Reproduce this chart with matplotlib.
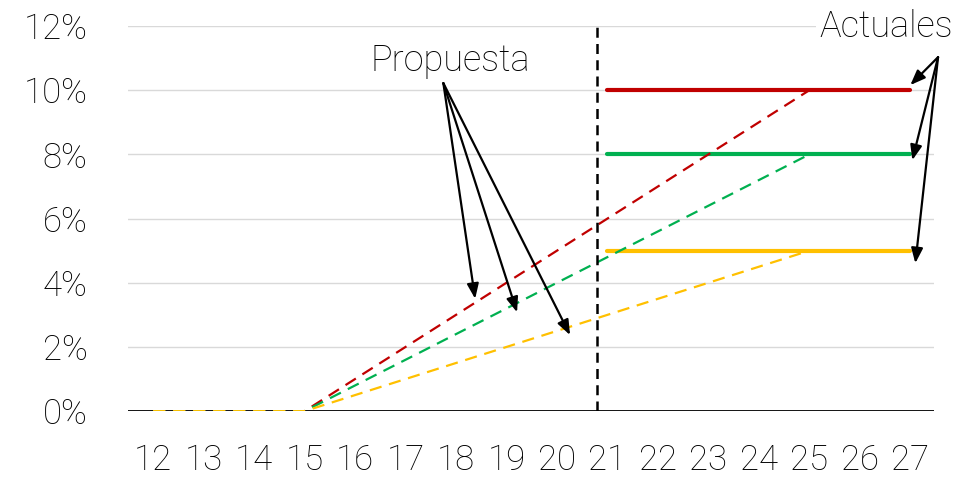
import numpy as np
import matplotlib.pyplot as plt
from matplotlib.ticker import FuncFormatter

plt.rcParams['font.family'] = ['Roboto', 'DejaVu Sans']

# propuesta (dashed), years 12..25
years_prop = [12, 13, 14, 15, 16, 17, 18, 19, 20, 21, 22, 23, 24, 25]
prop_red = [0, 0, 0, 0, 1.0, 2.0, 3.0, 4.0, 5.0, 6.0, 7.0, 8.0, 9.0, 10.0]
prop_green = [0, 0, 0, 0, 0.8, 1.6, 2.4, 3.2, 4.0, 4.8, 5.6, 6.4, 7.2, 8.0]
prop_yellow = [0, 0, 0, 0, 0.5, 1.0, 1.5, 2.0, 2.5, 3.0, 3.5, 4.0, 4.5, 5.0]

# actuales (solid), years 21..27
years_act = [21, 22, 23, 24, 25, 26, 27]
act_red = [10, 10, 10, 10, 10, 10, 10]
act_green = [8, 8, 8, 8, 8, 8, 8]
act_yellow = [5, 5, 5, 5, 5, 5, 5]

xticks = list(range(12, 28))
yticks = [0, 2, 4, 6, 8, 10, 12]

red = '#C00000'
green = '#00B050'
yellow = '#FFC000'

fig = plt.figure(figsize=(9.76, 4.82), dpi=100)
ax = fig.add_axes([0.131, 0.147, 0.826, 0.799])

for v in yticks[1:]:
    ax.axhline(v, color='#D9D9D9', lw=1, zorder=0)
ax.axhline(0, color='black', lw=1.3, zorder=1)

ax.plot(years_prop, prop_red, color=red, lw=1.6, dashes=(5.5, 3.5), zorder=3)
ax.plot(years_prop, prop_green, color=green, lw=1.6, dashes=(5.5, 3.5), zorder=3)
ax.plot(years_prop, prop_yellow, color=yellow, lw=1.6, dashes=(5.5, 3.5), zorder=3)

ax.plot(years_act, act_red, color=red, lw=3, solid_capstyle='round', zorder=2)
ax.plot(years_act, act_green, color=green, lw=3, solid_capstyle='round', zorder=2)
ax.plot(years_act, act_yellow, color=yellow, lw=3, solid_capstyle='round', zorder=2)

# separador entre propuesta y actuales
ax.axvline(20.8, color='black', lw=1.8, dashes=(4, 2.5), zorder=4)

arrow = dict(arrowstyle='-|>,head_length=0.9,head_width=0.35', color='black', lw=1.6,
             shrinkA=0, shrinkB=0)
for hx, hy in [(18.38, 3.5), (19.21, 3.08), (20.26, 2.37)]:
    ax.annotate('', xy=(hx, hy), xytext=(17.75, 10.22), arrowprops=arrow, zorder=5)
for hx, hy in [(27.0, 10.16), (27.04, 7.82), (27.1, 4.61)]:
    ax.annotate('', xy=(hx, hy), xytext=(27.55, 11.03), arrowprops=arrow,
                annotation_clip=False, zorder=5)

ax.text(17.88, 10.9, 'Propuesta', fontsize=26, fontweight='light',
        ha='center', va='center', zorder=6)
ax.text(26.52, 11.96, 'Actuales', fontsize=26, fontweight='light', ha='center', va='center',
        bbox=dict(facecolor='white', edgecolor='none', pad=2), zorder=6, clip_on=False)

ax.set_xlim(11.5, 27.47)
ax.set_ylim(0, 12)
ax.set_xticks(xticks)
ax.set_yticks(yticks)
ax.yaxis.set_major_formatter(FuncFormatter(lambda v, p: f'{v:.0f}%'))
ax.tick_params(length=0, labelsize=25)
ax.tick_params(axis='x', pad=23)
ax.tick_params(axis='y', pad=29)
for lab in ax.get_xticklabels() + ax.get_yticklabels():
    lab.set_fontweight('light')
for s in ax.spines.values():
    s.set_visible(False)

fig.savefig('out.png', dpi=100)
